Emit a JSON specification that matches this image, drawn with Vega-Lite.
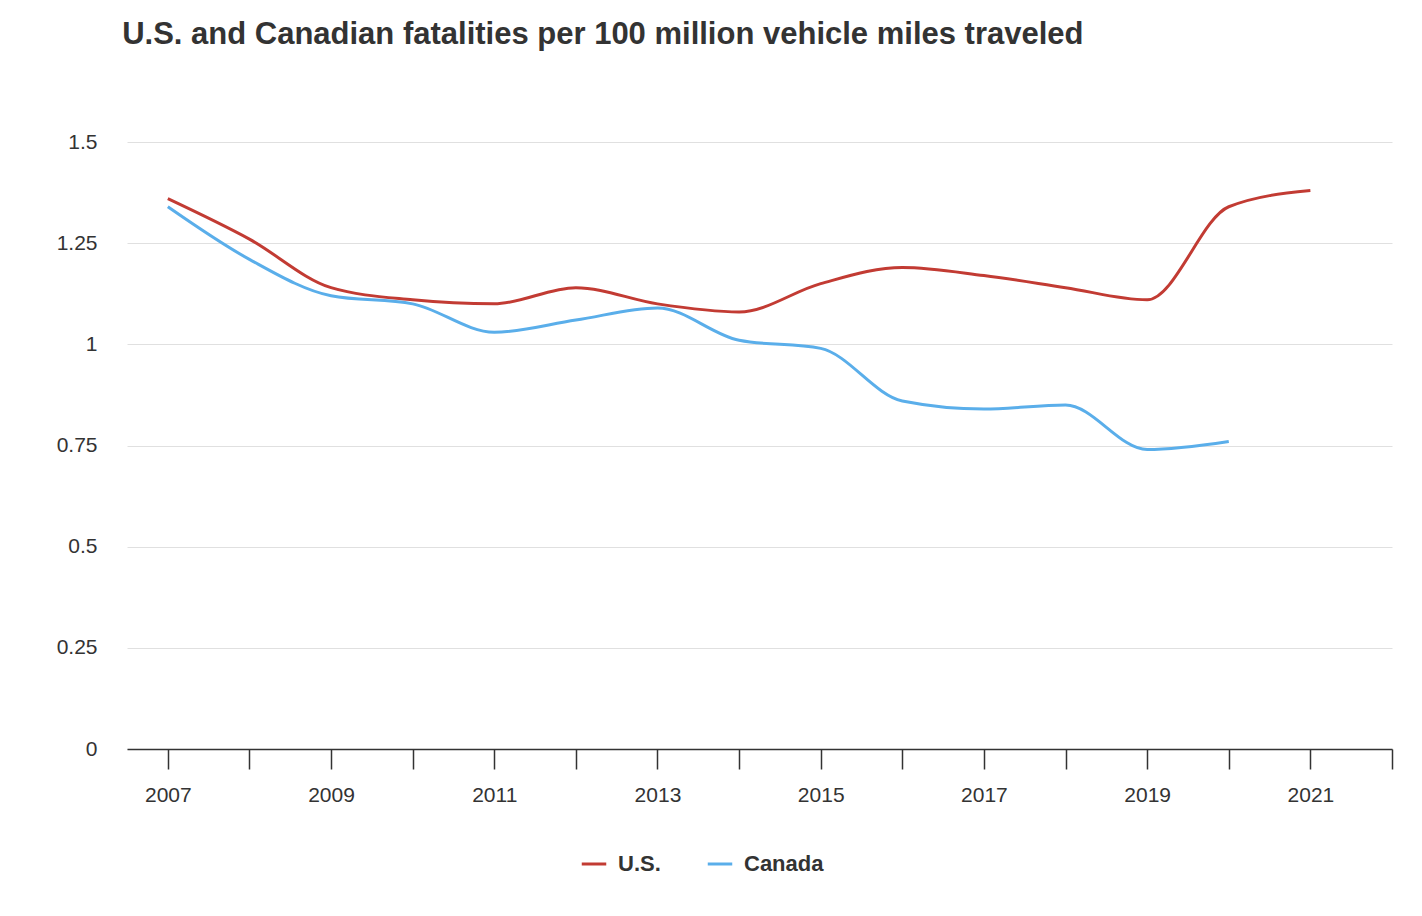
{
  "$schema": "https://vega.github.io/schema/vega-lite/v6.json",
  "width": 1265,
  "height": 607,
  "autosize": "none",
  "padding": {"left": 127, "top": 142, "right": 30, "bottom": 167},
  "background": "white",
  "title": {
    "text": "U.S. and Canadian fatalities per 100 million vehicle miles traveled",
    "fontSize": 31,
    "font": "Liberation Sans",
    "fontWeight": "bold",
    "color": "#333333",
    "anchor": "start",
    "dx": 66,
    "offset": 80
  },
  "config": {
    "view": {"stroke": null},
    "font": "Liberation Sans"
  },
  "data": {
    "values": [
      {"year": 2007, "country": "U.S.", "rate": 1.36},
      {"year": 2008, "country": "U.S.", "rate": 1.26},
      {"year": 2009, "country": "U.S.", "rate": 1.14},
      {"year": 2010, "country": "U.S.", "rate": 1.11},
      {"year": 2011, "country": "U.S.", "rate": 1.10},
      {"year": 2012, "country": "U.S.", "rate": 1.14},
      {"year": 2013, "country": "U.S.", "rate": 1.10},
      {"year": 2014, "country": "U.S.", "rate": 1.08},
      {"year": 2015, "country": "U.S.", "rate": 1.15},
      {"year": 2016, "country": "U.S.", "rate": 1.19},
      {"year": 2017, "country": "U.S.", "rate": 1.17},
      {"year": 2018, "country": "U.S.", "rate": 1.14},
      {"year": 2019, "country": "U.S.", "rate": 1.11},
      {"year": 2020, "country": "U.S.", "rate": 1.34},
      {"year": 2021, "country": "U.S.", "rate": 1.38},
      {"year": 2007, "country": "Canada", "rate": 1.34},
      {"year": 2008, "country": "Canada", "rate": 1.21},
      {"year": 2009, "country": "Canada", "rate": 1.12},
      {"year": 2010, "country": "Canada", "rate": 1.10},
      {"year": 2011, "country": "Canada", "rate": 1.03},
      {"year": 2012, "country": "Canada", "rate": 1.06},
      {"year": 2013, "country": "Canada", "rate": 1.09},
      {"year": 2014, "country": "Canada", "rate": 1.01},
      {"year": 2015, "country": "Canada", "rate": 0.99},
      {"year": 2016, "country": "Canada", "rate": 0.86},
      {"year": 2017, "country": "Canada", "rate": 0.84},
      {"year": 2018, "country": "Canada", "rate": 0.85},
      {"year": 2019, "country": "Canada", "rate": 0.74},
      {"year": 2020, "country": "Canada", "rate": 0.76}
    ]
  },
  "mark": {"type": "line", "interpolate": "monotone", "strokeWidth": 3},
  "encoding": {
    "x": {
      "field": "year",
      "type": "quantitative",
      "title": null,
      "scale": {"domain": [2006.5, 2022], "nice": false, "zero": false},
      "axis": {
        "values": [2007, 2008, 2009, 2010, 2011, 2012, 2013, 2014, 2015, 2016, 2017, 2018, 2019, 2020, 2021, 2022],
        "labelExpr": "datum.value % 2 == 1 && datum.value < 2022 ? toString(datum.value) : ''",
        "grid": false,
        "domainColor": "#333333",
        "domainWidth": 1.5,
        "tickColor": "#333333",
        "tickWidth": 1.5,
        "tickSize": 20,
        "labelFontSize": 21,
        "labelColor": "#333333",
        "labelPadding": 15,
        "labelFlush": false
      }
    },
    "y": {
      "field": "rate",
      "type": "quantitative",
      "title": null,
      "scale": {"domain": [0, 1.5], "nice": false},
      "axis": {
        "values": [0, 0.25, 0.5, 0.75, 1, 1.25, 1.5],
        "labelExpr": "toString(datum.value)",
        "domain": false,
        "ticks": false,
        "gridColor": "#e0e0e0",
        "labelFontSize": 21,
        "labelColor": "#333333",
        "labelPadding": 30
      }
    },
    "color": {
      "field": "country",
      "type": "nominal",
      "title": null,
      "scale": {"domain": ["U.S.", "Canada"], "range": ["#c23b33", "#5aaeea"]},
      "legend": {
        "orient": "none",
        "direction": "horizontal",
        "legendX": 453,
        "legendY": 708,
        "symbolType": "stroke",
        "symbolStrokeWidth": 3,
        "symbolSize": 600,
        "labelFontSize": 22,
        "labelFontWeight": "bold",
        "labelColor": "#333333",
        "labelOffset": 10,
        "columnPadding": 40
      }
    }
  }
}
